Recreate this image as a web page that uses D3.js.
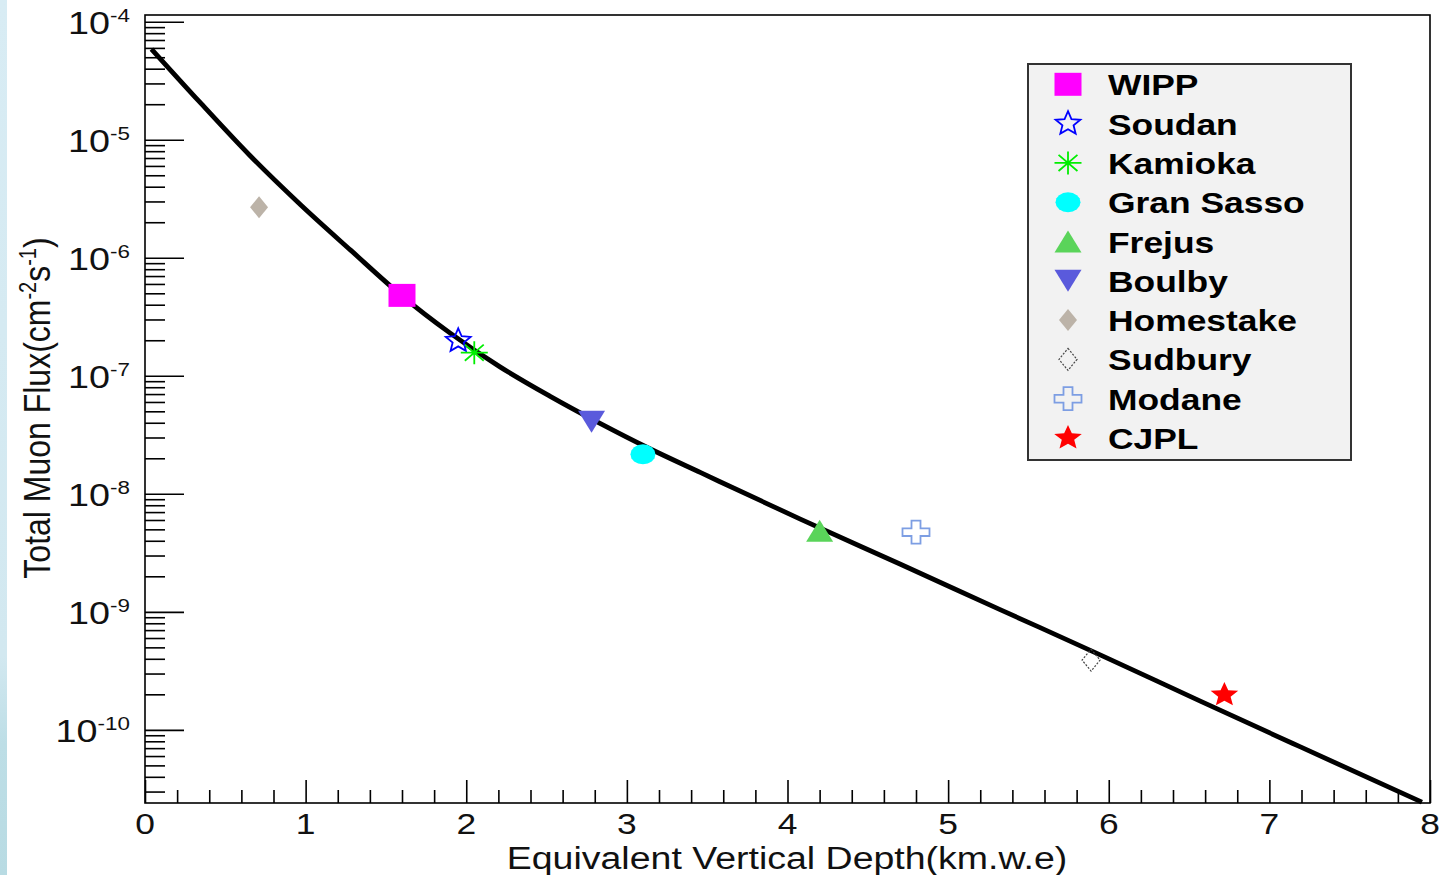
<!DOCTYPE html>
<html>
<head>
<meta charset="utf-8">
<script src="https://d3js.org/d3.v7.min.js"></script>
<style>
  body { margin: 0; background: #fff; }
  svg { display: block; font-family: "Liberation Sans", Arial, Helvetica, sans-serif; }
</style>
</head>
<body>
<script>
// underground labs: depth (km.w.e) and total muon flux (cm^-2 s^-1)
var sites  = ['WIPP', 'Soudan', 'Kamioka', 'Gran Sasso', 'Frejus', 'Boulby', 'Homestake', 'Sudbury', 'Modane', 'CJPL'];
var depths = [1.60, 1.95, 2.05, 3.10, 4.20, 2.78, 0.71, 5.89, 4.80, 6.72];
var fluxes = [4.8e-7, 1.98e-7, 1.57e-7, 2.16e-8, 4.87e-9, 4.07e-8, 2.68e-6, 3.9e-10, 4.73e-9, 1.98e-10];
var shapes = ['square', 'openStar', 'asterisk', 'circle', 'triUp', 'triDown', 'diamond', 'openDiamond', 'cross', 'star'];
var colors = ['#ff00ff', '#0000ff', '#00ee00', '#00ffff', '#5ad45a', '#5a5adc', '#bcb3a8', '#444444', '#7d9ee3', '#ff0000'];

// points along the black curve
var curveDepth = [0.04, 0.34, 0.65, 0.97, 1.28, 1.59, 1.90, 2.21, 2.52, 2.83, 3.14, 3.46,
                  4.08, 4.70, 5.32, 5.95, 6.57, 7.19, 7.95];
var curveFlux  = [5.87e-5, 2.09e-5, 7.42e-6, 2.80e-6, 1.16e-6, 4.88e-7, 2.30e-7, 1.19e-7, 6.73e-8, 3.97e-8, 2.42e-8, 1.51e-8,
                  6.10e-9, 2.54e-9, 1.05e-9, 4.30e-10, 1.75e-10, 7.20e-11, 2.44e-11];

// axis ticks
var xTicks = [0, 1, 2, 3, 4, 5, 6, 7, 8];
var yDecades = [-4, -5, -6, -7, -8, -9, -10];

var width = 1441,
    height = 875;

// the original picture is stretched sideways, text and markers too
var SX = 1.18;

var svg = d3.select('body')
  .append('svg')
  .attr('width', width)
  .attr('height', height);

// light blue strip on the left edge
var grad = svg.append('defs').append('linearGradient')
  .attr('id', 'edge')
  .attr('x1', 0).attr('y1', 0).attr('x2', 0).attr('y2', 1);
grad.append('stop').attr('offset', '0%').attr('stop-color', '#d8ecf4');
grad.append('stop').attr('offset', '75%').attr('stop-color', '#d2e8f0');
grad.append('stop').attr('offset', '85%').attr('stop-color', '#bddee6');
grad.append('stop').attr('offset', '100%').attr('stop-color', '#b8dbe3');
svg.append('rect')
  .attr('x', 0).attr('y', 0)
  .attr('width', 7).attr('height', height)
  .attr('fill', 'url(#edge)');

var x = d3.scaleLinear().domain([0, 8]).range([145, 1430]);
var y = d3.scaleLog().domain([2.4e-11, 1.14e-4]).range([803, 15]);

// frame
svg.append('rect')
  .attr('x', x(0)).attr('y', y(1.14e-4))
  .attr('width', x(8) - x(0)).attr('height', y(2.4e-11) - y(1.14e-4))
  .attr('fill', 'none')
  .attr('stroke', '#000')
  .attr('stroke-width', 1.6);

// minor and major tick values
var minorY = [];
d3.range(-11, -3).forEach(function(e) {
  d3.range(2, 10).forEach(function(k) {
    var v = k * Math.pow(10, e);
    if (v > y.domain()[0] && v < y.domain()[1]) minorY.push(v);
  });
});
var majorY = yDecades.map(function(e) { return Math.pow(10, e); });
var minorX = d3.range(1, 40).filter(function(i) { return i % 5 !== 0; }).map(function(i) { return i / 5; });

function tickAxis(axis, tr) {
  var g = svg.append('g').attr('transform', tr).call(axis);
  g.select('.domain').remove();
  g.selectAll('.tick line').attr('stroke', '#000').attr('stroke-width', 1.6);
  g.selectAll('.tick text').remove();
  return g;
}

tickAxis(d3.axisLeft(y).tickValues(minorY).tickSize(-20), 'translate(' + x(0) + ',0)');
tickAxis(d3.axisLeft(y).tickValues(majorY).tickSize(-39), 'translate(' + x(0) + ',0)');
tickAxis(d3.axisBottom(x).tickValues(minorX).tickSize(-13), 'translate(0,' + y(2.4e-11) + ')');
tickAxis(d3.axisBottom(x).tickValues(xTicks).tickSize(-23), 'translate(0,' + y(2.4e-11) + ')');

// y tick labels 10^n
var yLab = svg.selectAll('.ylab')
  .data(yDecades)
  .enter()
  .append('text')
  .attr('class', 'ylab')
  .attr('text-anchor', 'end')
  .attr('fill', '#111')
  .attr('transform', function(d) {
    return 'translate(130,' + (y(Math.pow(10, d)) + 12.5) + ') scale(' + SX + ',1)';
  });
yLab.append('tspan').attr('font-size', 32).text('10');
yLab.append('tspan').attr('font-size', 19).attr('dy', -12).text(function(d) { return d; });

// x tick labels
svg.selectAll('.xlab')
  .data(xTicks)
  .enter()
  .append('text')
  .attr('class', 'xlab')
  .attr('text-anchor', 'middle')
  .attr('font-size', 30)
  .attr('fill', '#111')
  .attr('transform', function(d) {
    return 'translate(' + x(d) + ',834) scale(' + SX + ',1)';
  })
  .text(function(d) { return d; });

// axis titles
svg.append('text')
  .attr('text-anchor', 'middle')
  .attr('font-size', 31)
  .attr('fill', '#111')
  .attr('transform', 'translate(787,868.5) scale(1.21,1)')
  .text('Equivalent Vertical Depth(km.w.e)');

var yTitle = svg.append('text')
  .attr('text-anchor', 'middle')
  .attr('font-size', 32)
  .attr('fill', '#111')
  .attr('transform', 'translate(50,408) scale(' + SX + ',1) rotate(-90)');
yTitle.append('tspan').text('Total Muon Flux(cm');
yTitle.append('tspan').attr('font-size', 20).attr('dy', -12).text('-2');
yTitle.append('tspan').attr('dy', 12).text('s');
yTitle.append('tspan').attr('font-size', 20).attr('dy', -12).text('-1');
yTitle.append('tspan').attr('dy', 12).text(')');

// the black curve
var curvePts = curveDepth.map(function(d, i) { return [d, curveFlux[i]]; });
var line = d3.line()
  .x(function(d) { return x(d[0]); })
  .y(function(d) { return y(d[1]); })
  .curve(d3.curveMonotoneX);

svg.append('path')
  .datum(curvePts)
  .attr('d', line)
  .attr('fill', 'none')
  .attr('stroke', '#000')
  .attr('stroke-width', 4.8)
  .attr('stroke-linejoin', 'round');

// ROOT-like marker shapes, w and h are half sizes
function markerPath(shape, w, h) {
  var p = d3.path();
  if (shape === 'square') {
    p.rect(-w, -h, 2 * w, 2 * h);
  } else if (shape === 'triUp') {
    p.moveTo(0, -h); p.lineTo(w, h); p.lineTo(-w, h); p.closePath();
  } else if (shape === 'triDown') {
    p.moveTo(0, h); p.lineTo(w, -h); p.lineTo(-w, -h); p.closePath();
  } else if (shape === 'circle') {
    d3.range(0, 16).forEach(function(i) {
      var a = i / 16 * 2 * Math.PI;
      if (i === 0) p.moveTo(w * Math.cos(a), h * Math.sin(a));
      else p.lineTo(w * Math.cos(a), h * Math.sin(a));
    });
    p.closePath();
  } else if (shape === 'diamond' || shape === 'openDiamond') {
    p.moveTo(0, -h); p.lineTo(w, 0); p.lineTo(0, h); p.lineTo(-w, 0); p.closePath();
  } else if (shape === 'cross') {
    var a = w / 3, b = h / 3;
    p.moveTo(-a, -h); p.lineTo(a, -h); p.lineTo(a, -b); p.lineTo(w, -b); p.lineTo(w, b);
    p.lineTo(a, b); p.lineTo(a, h); p.lineTo(-a, h); p.lineTo(-a, b); p.lineTo(-w, b);
    p.lineTo(-w, -b); p.lineTo(-a, -b); p.closePath();
  } else if (shape === 'star' || shape === 'openStar') {
    d3.range(0, 10).forEach(function(i) {
      var ang = -Math.PI / 2 + i * Math.PI / 5,
          r = i % 2 ? 0.45 : 1;
      var px = w * r * Math.cos(ang), py = h * r * Math.sin(ang);
      if (i === 0) p.moveTo(px, py); else p.lineTo(px, py);
    });
    p.closePath();
  } else if (shape === 'asterisk') {
    p.moveTo(-w, 0); p.lineTo(w, 0);
    p.moveTo(0, -h); p.lineTo(0, h);
    p.moveTo(-0.7 * w, -0.7 * h); p.lineTo(0.7 * w, 0.7 * h);
    p.moveTo(-0.7 * w, 0.7 * h); p.lineTo(0.7 * w, -0.7 * h);
  }
  return p.toString();
}

var markerSize = {
  square: [13.5, 11.5], openStar: [13, 12.4], asterisk: [13.5, 11.5], circle: [12.5, 10],
  triUp: [13.5, 11], triDown: [13.5, 11], diamond: [9, 11], openDiamond: [9, 11],
  cross: [13.5, 11.5], star: [14.5, 12.9]
};
var openShapes = ['openStar', 'asterisk', 'openDiamond', 'cross'];

function drawMarker(g, i) {
  var s = shapes[i], sz = markerSize[s], open = openShapes.indexOf(s) >= 0;
  g.append('path')
    .attr('d', markerPath(s, sz[0], sz[1]))
    .attr('fill', open ? 'none' : colors[i])
    .attr('stroke', open ? colors[i] : 'none')
    .attr('stroke-width', s === 'openDiamond' ? 1.2 : 1.8)
    .attr('stroke-dasharray', s === 'openDiamond' ? '2,1.5' : null);
}

// data points
sites.forEach(function(name, i) {
  var g = svg.append('g')
    .attr('class', 'site')
    .attr('transform', 'translate(' + x(depths[i]) + ',' + y(fluxes[i]) + ')');
  drawMarker(g, i);
});

// legend
var legend = svg.append('g').attr('transform', 'translate(1028,64)');
legend.append('rect')
  .attr('width', 323).attr('height', 396)
  .attr('fill', '#f2f2f2')
  .attr('stroke', '#333')
  .attr('stroke-width', 2);

sites.forEach(function(name, i) {
  var row = legend.append('g').attr('transform', 'translate(0,' + (20.3 + i * 39.3) + ')');
  drawMarker(row.append('g').attr('transform', 'translate(40,0)'), i);
  row.append('text')
    .attr('transform', 'translate(80,11) scale(' + SX + ',1)')
    .attr('font-size', 30)
    .attr('font-weight', 'bold')
    .attr('fill', '#000')
    .text(name);
});
</script>
</body>
</html>
